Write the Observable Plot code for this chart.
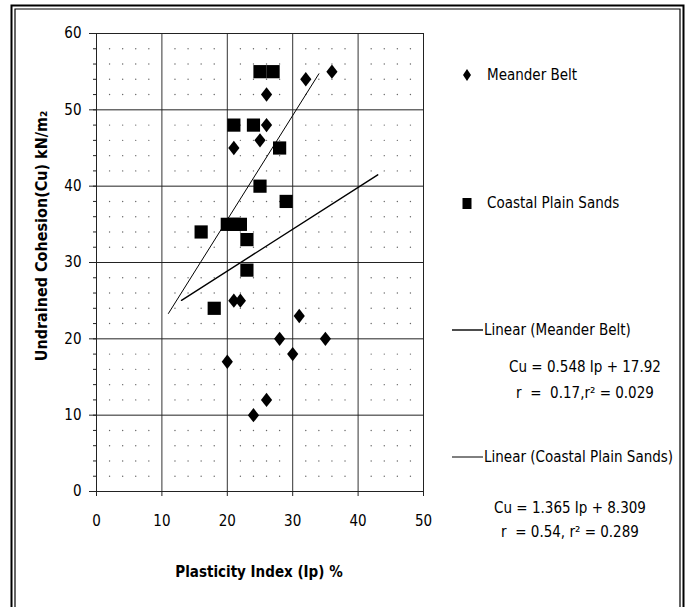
<!DOCTYPE html>
<html>
<head>
<meta charset="utf-8">
<script src="https://cdn.jsdelivr.net/npm/d3@7"></script>
<script src="https://cdn.jsdelivr.net/npm/@observablehq/plot@0.6"></script>
<style>
  html, body { margin: 0; padding: 0; background: #fff; }
  #chart { width: 687px; height: 607px; }
  svg { font-family: "Liberation Sans Narrow", "DejaVu Sans Condensed", sans-serif; }
</style>
</head>
<body>
<div id="chart"></div>
<script>
// ---- data ----
const meanderIp = [36, 32, 26, 26, 25, 21, 21, 22, 31, 28, 35, 30, 20, 26, 24];
const meanderCu = [55, 54, 52, 48, 46, 45, 25, 25, 23, 20, 20, 18, 17, 12, 10];
const coastalIp = [25, 27, 21, 24, 28, 25, 29, 16, 20, 21, 22, 23, 23, 18];
const coastalCu = [55, 55, 48, 48, 45, 40, 38, 34, 35, 35, 35, 33, 29, 24];
const meanderFit = {slope: 0.548, intercept: 17.92, from: 13, to: 43};
const coastalFit = {slope: 1.365, intercept: 8.309, from: 11, to: 34};
const xTicks = [0, 10, 20, 30, 40, 50];
const yTicks = [0, 10, 20, 30, 40, 50, 60];
const seriesNames = ["Meander Belt", "Coastal Plain Sands"];
const trendNames = ["Linear (Meander Belt)", "Linear (Coastal Plain Sands)"];
const eqTexts = [
  ["Cu = 0.548 Ip + 17.92", "r  =  0.17,r\u00B2 = 0.029"],
  ["Cu = 1.365 Ip + 8.309", "r  = 0.54, r\u00B2 = 0.289"]
];
const xTitle = "Plasticity Index (Ip) %";
const yTitle = "Undrained Cohesion(Cu) kN/m\u2082";

// ---- derived tables ----
const meander = meanderIp.map((x, i) => ({x, y: meanderCu[i]}));
const coastal = coastalIp.map((x, i) => ({x, y: coastalCu[i]}));
const fitLine = f => [f.from, f.to].map(x => ({x, y: f.slope * x + f.intercept}));
const dotGrid = [];
for (const gx of d3.range(2, 50, 2)) for (const gy of d3.range(2, 60, 2))
  if (gx % 10 !== 0 && gy % 10 !== 0) dotGrid.push({x: gx, y: gy});

const diamondSym = {draw(ctx) { const w = 5.6, h = 7.2; ctx.moveTo(0, -h); ctx.lineTo(w, 0); ctx.lineTo(0, h); ctx.lineTo(-w, 0); ctx.closePath(); }};
const squareSym = {draw(ctx) { const s = 6.6; ctx.moveTo(-s, -s); ctx.lineTo(s, -s); ctx.lineTo(s, s); ctx.lineTo(-s, s); ctx.closePath(); }};

const chart = Plot.plot({
  width: 687, height: 607,
  marginLeft: 96, marginRight: 264, marginTop: 33, marginBottom: 116,
  style: {fontFamily: '"Liberation Sans Narrow", "DejaVu Sans Condensed", sans-serif', background: "#fff"},
  x: {domain: [0, 50]},
  y: {domain: [0, 60]},
  marks: [
    Plot.dot(dotGrid, {x: "x", y: "y", r: 0.7, fill: "#666", stroke: null}),
    Plot.gridX(xTicks, {stroke: "#333", strokeOpacity: 1, strokeWidth: 1}),
    Plot.gridY(yTicks, {stroke: "#222", strokeOpacity: 1, strokeWidth: 1}),
    Plot.frame({stroke: "#222"}),
    Plot.axisX(xTicks, {tickSize: 5, tickPadding: 19, fontSize: 15, label: null, stroke: "#222"}),
    Plot.axisY(yTicks, {tickSize: 7, tickPadding: 8, fontSize: 15, label: null, stroke: "#222"}),
    Plot.axisY(d3.range(0, 61, 2), {tickSize: 3, text: null, label: null, stroke: "#222"}),
    Plot.line(fitLine(meanderFit), {x: "x", y: "y", stroke: "#000", strokeWidth: 1.4}),
    Plot.line(fitLine(coastalFit), {x: "x", y: "y", stroke: "#000", strokeWidth: 1}),
    Plot.dot(meander, {x: "x", y: "y", symbol: diamondSym, fill: "#000", stroke: null}),
    Plot.dot(coastal, {x: "x", y: "y", symbol: squareSym, fill: "#000", stroke: null})
  ]
});
document.getElementById("chart").appendChild(chart);

// ---- legend, titles, frame ----
const svg = d3.select(chart);
const g = svg.append("g").attr("font-size", 15).attr("fill", "#000").attr("text-anchor", "start");
// outer double border (bottom edge is cropped in the reference)
g.append("path").attr("d", "M11.5,607 V5.5 H683.5 V607").attr("fill", "none").attr("stroke", "#000").attr("stroke-width", 2);
g.append("path").attr("d", "M15,607 V9 H680 V607").attr("fill", "none").attr("stroke", "#000").attr("stroke-width", 1.2);

// axis titles
g.append("text").attr("x", 259).attr("y", 572).attr("text-anchor", "middle").attr("dominant-baseline", "middle")
  .attr("font-weight", "bold").attr("font-size", 15).text(xTitle);
g.append("text").attr("transform", "translate(42,236) rotate(-90)").attr("text-anchor", "middle").attr("dominant-baseline", "middle")
  .attr("font-weight", "bold").attr("font-size", 16).text(yTitle);

// series legend
g.append("path").attr("d", "M467,69 L471,75 L467,81 L463,75 Z").attr("fill", "#000");
g.append("text").attr("x", 487).attr("y", 75).attr("text-anchor", "start").attr("dominant-baseline", "middle").text(seriesNames[0]);
g.append("rect").attr("x", 462.5).attr("y", 198).attr("width", 9).attr("height", 11).attr("fill", "#000");
g.append("text").attr("x", 487).attr("y", 203).attr("text-anchor", "start").attr("dominant-baseline", "middle").text(seriesNames[1]);

// trendline legend
[[330, 1.4], [457, 1]].forEach(([yy, sw], i) => {
  g.append("line").attr("x1", 452).attr("x2", 483).attr("y1", yy).attr("y2", yy).attr("stroke", "#000").attr("stroke-width", sw);
  g.append("text").attr("x", 484).attr("y", yy).attr("text-anchor", "start").attr("dominant-baseline", "middle").text(trendNames[i]);
});
[[585, 367, 393], [570, 508, 532]].forEach(([cx, y1, y2], i) => {
  g.append("text").attr("x", cx).attr("y", y1).attr("text-anchor", "middle").attr("dominant-baseline", "middle").text(eqTexts[i][0]);
  g.append("text").attr("x", cx).attr("y", y2).attr("text-anchor", "middle").attr("dominant-baseline", "middle").text(eqTexts[i][1]);
});
</script>
</body>
</html>
